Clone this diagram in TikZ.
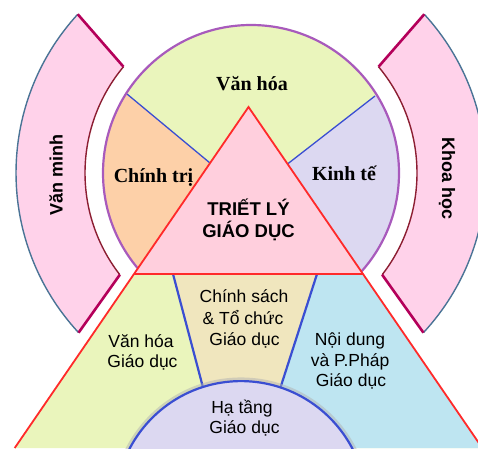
\documentclass[tikz,border=0pt]{standalone}
\usepackage{fontspec}
\setmainfont{Liberation Serif}
\setsansfont{Liberation Sans}
\usetikzlibrary{calc}

\definecolor{trianglepink}{HTML}{FFCFDD}
\definecolor{bandpink}{HTML}{FFD2EA}
\definecolor{softgreen}{HTML}{EAF5BC}
\definecolor{softorange}{HTML}{FDD0A8}
\definecolor{softlavender}{HTML}{DCD8F1}
\definecolor{softtan}{HTML}{F0E6BE}
\definecolor{softblue}{HTML}{BEE5F1}
\definecolor{ringpurple}{HTML}{A85ABC}
\definecolor{edgered}{HTML}{FF2A2A}
\definecolor{dividerblue}{HTML}{3A4ED2}
\definecolor{bandouter}{HTML}{4A7496}
\definecolor{bandinner}{HTML}{8C1E32}
\definecolor{bandcap}{HTML}{B4005A}

\begin{document}
\begin{tikzpicture}[x=1pt,y=1pt,
  serifbold/.style={font=\bfseries\fontsize{20}{24}\selectfont, inner sep=0pt},
  titletext/.style={font=\sffamily\bfseries\fontsize{18.5}{22}\selectfont, inner sep=0pt},
  areatext/.style={font=\sffamily\fontsize{17.5}{21}\selectfont, inner sep=0pt},
  bandtext/.style={font=\sffamily\bfseries\fontsize{18}{21}\selectfont, inner sep=0pt},
  outerarc/.style={draw=bandouter, line width=1.4pt},
  innerarc/.style={draw=bandinner, line width=1.4pt},
  capline/.style={draw=bandcap, line width=2.6pt},
  redline/.style={draw=edgered, line width=1.8pt},
  thinblue/.style={draw=dividerblue, line width=1.3pt},
  thickblue/.style={draw=dividerblue, line width=2.2pt}]
\useasboundingbox (0,0) rectangle (478,448);
\clip (0,0) rectangle (478,448);

% key points
\coordinate (C) at (251,275);
\coordinate (apex) at (248.5,341);
\coordinate (bl) at (134,174);
\coordinate (br) at (363,174);
\coordinate (lowl) at (14.7,0);
\coordinate (lowr) at (482.3,0);
\coordinate (d1) at (210,285);
\coordinate (e1) at (127,354);
\coordinate (d2) at (287.5,284);
\coordinate (e2) at (375,352);
\coordinate (f1) at (173,174);
\coordinate (g1) at (219,0);
\coordinate (f2) at (317,174);
\coordinate (g2) at (261,0);
\coordinate (H) at (241,-58.7);

% side bands
\fill[bandpink] ($(C)+(137.5:235)$) arc[start angle=137.5,end angle=222.8,radius=235]
  -- ($(C)+(217.8:166)$) arc[start angle=217.8,end angle=140.2,radius=166] -- cycle;
\path[outerarc] ($(C)+(137.5:235)$) arc[start angle=137.5,end angle=222.8,radius=235];
\path[innerarc] ($(C)+(217.8:166)$) arc[start angle=217.8,end angle=140.2,radius=166];
\path[capline] ($(C)+(137.5:235)$) -- ($(C)+(140.2:166)$);
\path[capline] ($(C)+(222.8:235)$) -- ($(C)+(217.8:166)$);

\fill[bandpink] ($(C)+(42.5:235)$) arc[start angle=42.5,end angle=-42.8,radius=235]
  -- ($(C)+(-37.8:166)$) arc[start angle=-37.8,end angle=39.8,radius=166] -- cycle;
\path[outerarc] ($(C)+(42.5:235)$) arc[start angle=42.5,end angle=-42.8,radius=235];
\path[innerarc] ($(C)+(-37.8:166)$) arc[start angle=-37.8,end angle=39.8,radius=166];
\path[capline] ($(C)+(42.5:235)$) -- ($(C)+(39.8:166)$);
\path[capline] ($(C)+(-42.8:235)$) -- ($(C)+(-37.8:166)$);

% circle with its three sectors
\fill[softgreen] (C) circle[radius=148];
\begin{scope}
  \clip (C) circle[radius=148];
  \fill[softorange] (d1) -- (44,423) -- (44,118) -- (240,118) -- cycle;
  \fill[softlavender] (d2) -- (463,420) -- (463,118) -- (260,118) -- cycle;
\end{scope}
\path[thinblue] (d1) -- (e1);
\path[thinblue] (d2) -- (e2);
\draw[ringpurple, line width=2.2pt] (C) circle[radius=148];

% lower areas
\fill[softgreen] (bl) -- (br) -- (lowr) -- (lowl) -- cycle;
\fill[softtan] (f1) -- (f2) -- (g2) -- (g1) -- cycle;
\fill[softblue] (f2) -- (br) -- (lowr) -- (g2) -- cycle;
\path[thickblue] (f1) -- (g1);
\path[thickblue] (f2) -- (g2);

% triangle
\fill[trianglepink] (apex) -- (bl) -- (br) -- cycle;
\path[redline, line join=miter] (lowl) -- (apex) -- (lowr);
\path[redline] (bl) -- (br);

% lower circle
\draw[black!30, opacity=0.5, line width=4.5pt] (H) circle[radius=127];
\fill[softlavender] (H) circle[radius=125.6];
\path[thickblue] (H) circle[radius=125.6];

% labels
\node[serifbold, anchor=base] (vanhoa) at (252,357) {Văn hóa};
\node[serifbold, anchor=base] (chinhtri) at (153.5,266) {Chính trị};
\node[serifbold, anchor=base] (kinhte) at (344,268) {Kinh tế};
\node[titletext, anchor=base] (triet) at (248.5,233) {TRIẾT LÝ};
\node[titletext, anchor=base] (giaoduc) at (248.5,211) {GIÁO DỤC};

\node[areatext, anchor=base] (cs1) at (244,146) {Chính sách};
\node[areatext, anchor=base] (cs2) at (243,124) {\& Tổ chức};
\node[areatext, anchor=base] (cs3) at (244.5,103) {Giáo dục};

\node[areatext, anchor=base] (vh1) at (141,101) {Văn hóa};
\node[areatext, anchor=base] (vh2) at (142.5,81) {Giáo dục};

\node[areatext, anchor=base] (nd1) at (350,103) {Nội dung};
\node[areatext, anchor=base] (nd2) at (350,82) {và P.Pháp};
\node[areatext, anchor=base] (nd3) at (351,62) {Giáo dục};

\node[areatext, anchor=base] (ht1) at (242,35) {Hạ tầng};
\node[areatext, anchor=base] (ht2) at (244.5,15) {Giáo dục};

\node[bandtext, rotate=90, anchor=base] (vanminh) at (62.5,273) {Văn minh};
\node[bandtext, rotate=-90, anchor=base] (khoahoc) at (442,269.5) {Khoa học};
\end{tikzpicture}
\end{document}
